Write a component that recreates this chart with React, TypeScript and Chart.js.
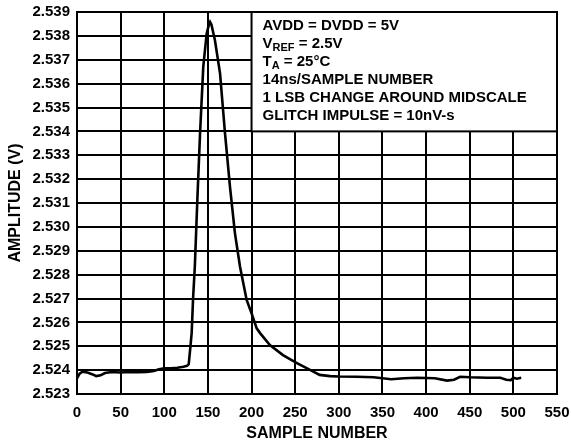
import React, { useEffect, useRef } from "react";
import { Chart, registerables } from "chart.js";

Chart.register(...registerables);

const sampleNumbers = [
  0, 3, 6, 12, 18, 22, 27, 32, 40, 50, 60, 70, 80, 88, 94, 100, 108, 115, 122, 126, 128,
  130, 131.4, 133, 135, 137.9, 141, 144.7, 148.6, 151, 152.5, 154, 158, 163.9, 169.6, 175.3,
  181, 186.8, 194.4, 200, 205.9, 210, 221, 236, 252, 267, 278, 290, 300, 320, 340, 360,
  375, 390, 410, 424, 432, 439, 450, 470, 485, 492, 497, 500, 504, 509,
];
const amplitudes = [
  2.52366, 2.52385, 2.52393, 2.5239, 2.52382, 2.52375, 2.52378, 2.52388, 2.52392, 2.5239,
  2.52392, 2.52391, 2.52392, 2.52396, 2.52404, 2.52408, 2.52408, 2.5241, 2.52414, 2.52418,
  2.52425, 2.525, 2.52556, 2.527, 2.52833, 2.53113, 2.53392, 2.53671, 2.5381, 2.53845,
  2.53858, 2.53848, 2.53783, 2.53643, 2.53392, 2.53168, 2.52973, 2.52833, 2.52694, 2.52638,
  2.52575, 2.52554, 2.52505, 2.52463, 2.52429, 2.52401, 2.5238, 2.52375, 2.52373, 2.52372,
  2.5237, 2.52362, 2.52366, 2.52368, 2.52366, 2.52356, 2.5236, 2.52372, 2.5237, 2.52368,
  2.52368, 2.5236, 2.52358, 2.52368, 2.52364, 2.52368,
];

const xMin = 0;
const xMax = 550;
const xStep = 50;
const yMin = 2.523;
const yMax = 2.539;
const yStep = 0.001;

const xTitle = "SAMPLE NUMBER";
const yTitle = "AMPLITUDE (V)";

// annotation box: from sample 200 to right edge, from top to 2.534
const boxFromSample = 200;
const boxBottomValue = 2.534;
type Part = { t: string; sub?: boolean };
const annotationLines: Part[][] = [
  [{ t: "AVDD = DVDD = 5V" }],
  [{ t: "V" }, { t: "REF", sub: true }, { t: " = 2.5V" }],
  [{ t: "T" }, { t: "A", sub: true }, { t: " = 25°C" }],
  [{ t: "14ns/SAMPLE NUMBER" }],
  [{ t: "1 LSB CHANGE AROUND MIDSCALE" }],
  [{ t: "GLITCH IMPULSE = 10nV-s" }],
];

const FONT = "'Liberation Sans', Arial, Helvetica, sans-serif";

const annotationPlugin = {
  id: "annotBox",
  beforeDatasetsDraw(chart: any) {
    const { ctx, chartArea, scales } = chart;
    const x0 = scales.x.getPixelForValue(boxFromSample);
    const y1 = scales.y.getPixelForValue(boxBottomValue);
    const x1 = chartArea.right;
    const y0 = chartArea.top;
    ctx.save();
    ctx.fillStyle = "#fff";
    ctx.fillRect(x0, y0, x1 - x0, y1 - y0);
    ctx.strokeStyle = "#000";
    ctx.lineWidth = 2;
    ctx.strokeRect(x0, y0, x1 - x0, y1 - y0);
    ctx.fillStyle = "#000";
    ctx.textBaseline = "middle";
    const mainSize = 15;
    const subSize = 11;
    let y = y0 + 14;
    for (const line of annotationLines) {
      let x = x0 + 11;
      for (const p of line) {
        if (p.sub) {
          ctx.font = `bold ${subSize}px ${FONT}`;
          ctx.fillText(p.t, x, y + 4);
        } else {
          ctx.font = `bold ${mainSize}px ${FONT}`;
          ctx.fillText(p.t, x, y);
        }
        x += ctx.measureText(p.t).width;
      }
      y += 18;
    }
    ctx.restore();
  },
};

export default function App() {
  const ref = useRef<HTMLCanvasElement | null>(null);
  useEffect(() => {
    if (!ref.current) return;
    const points = sampleNumbers.map((s, i) => ({ x: s, y: amplitudes[i] }));
    const chart = new Chart(ref.current, {
      type: "line",
      data: {
        datasets: [
          {
            data: points,
            borderColor: "#000",
            borderWidth: 2.6,
            pointRadius: 0,
            tension: 0,
            fill: false,
          },
        ],
      },
      options: {
        responsive: false,
        animation: false,
        layout: { padding: { top: 12, right: 14, left: 0, bottom: 0 } },
        plugins: { legend: { display: false }, tooltip: { enabled: false } },
        scales: {
          x: {
            type: "linear",
            min: xMin,
            max: xMax,
            afterFit: (s: any) => {
              s.height = 51;
              s.paddingLeft = 0;
              s.paddingRight = 0;
            },
            ticks: {
              stepSize: xStep,
              color: "#000",
              padding: 10,
              maxRotation: 0,
              font: { family: FONT, weight: "bold", size: 15 },
            },
            grid: { color: "#000", lineWidth: 2, drawTicks: false, tickLength: 0 },
            border: { display: true, color: "#000", width: 2 },
            title: {
              display: true,
              text: xTitle,
              color: "#000",
              font: { family: FONT, weight: "bold", size: 16 },
              padding: { top: 0, bottom: 2 },
            },
          },
          y: {
            type: "linear",
            min: yMin,
            max: yMax,
            afterFit: (s: any) => {
              s.width = 77;
              s.paddingTop = 0;
              s.paddingBottom = 0;
            },
            ticks: {
              stepSize: yStep,
              color: "#000",
              padding: 7,
              font: { family: FONT, weight: "bold", size: 15 },
              callback: (v: any) => Number(v).toFixed(3),
            },
            grid: { color: "#000", lineWidth: 2, drawTicks: false, tickLength: 0 },
            border: { display: true, color: "#000", width: 2 },
            title: {
              display: true,
              text: yTitle,
              color: "#000",
              font: { family: FONT, weight: "bold", size: 16 },
              padding: { top: 6, bottom: 0 },
            },
          },
        },
      },
      plugins: [annotationPlugin],
    });
    return () => chart.destroy();
  }, []);
  return (
    <div style={{ position: "absolute", left: 0, top: 0, width: 571, height: 445, background: "#fff" }}>
      <canvas ref={ref} width={571} height={445} style={{ display: "block" }} />
    </div>
  );
}
